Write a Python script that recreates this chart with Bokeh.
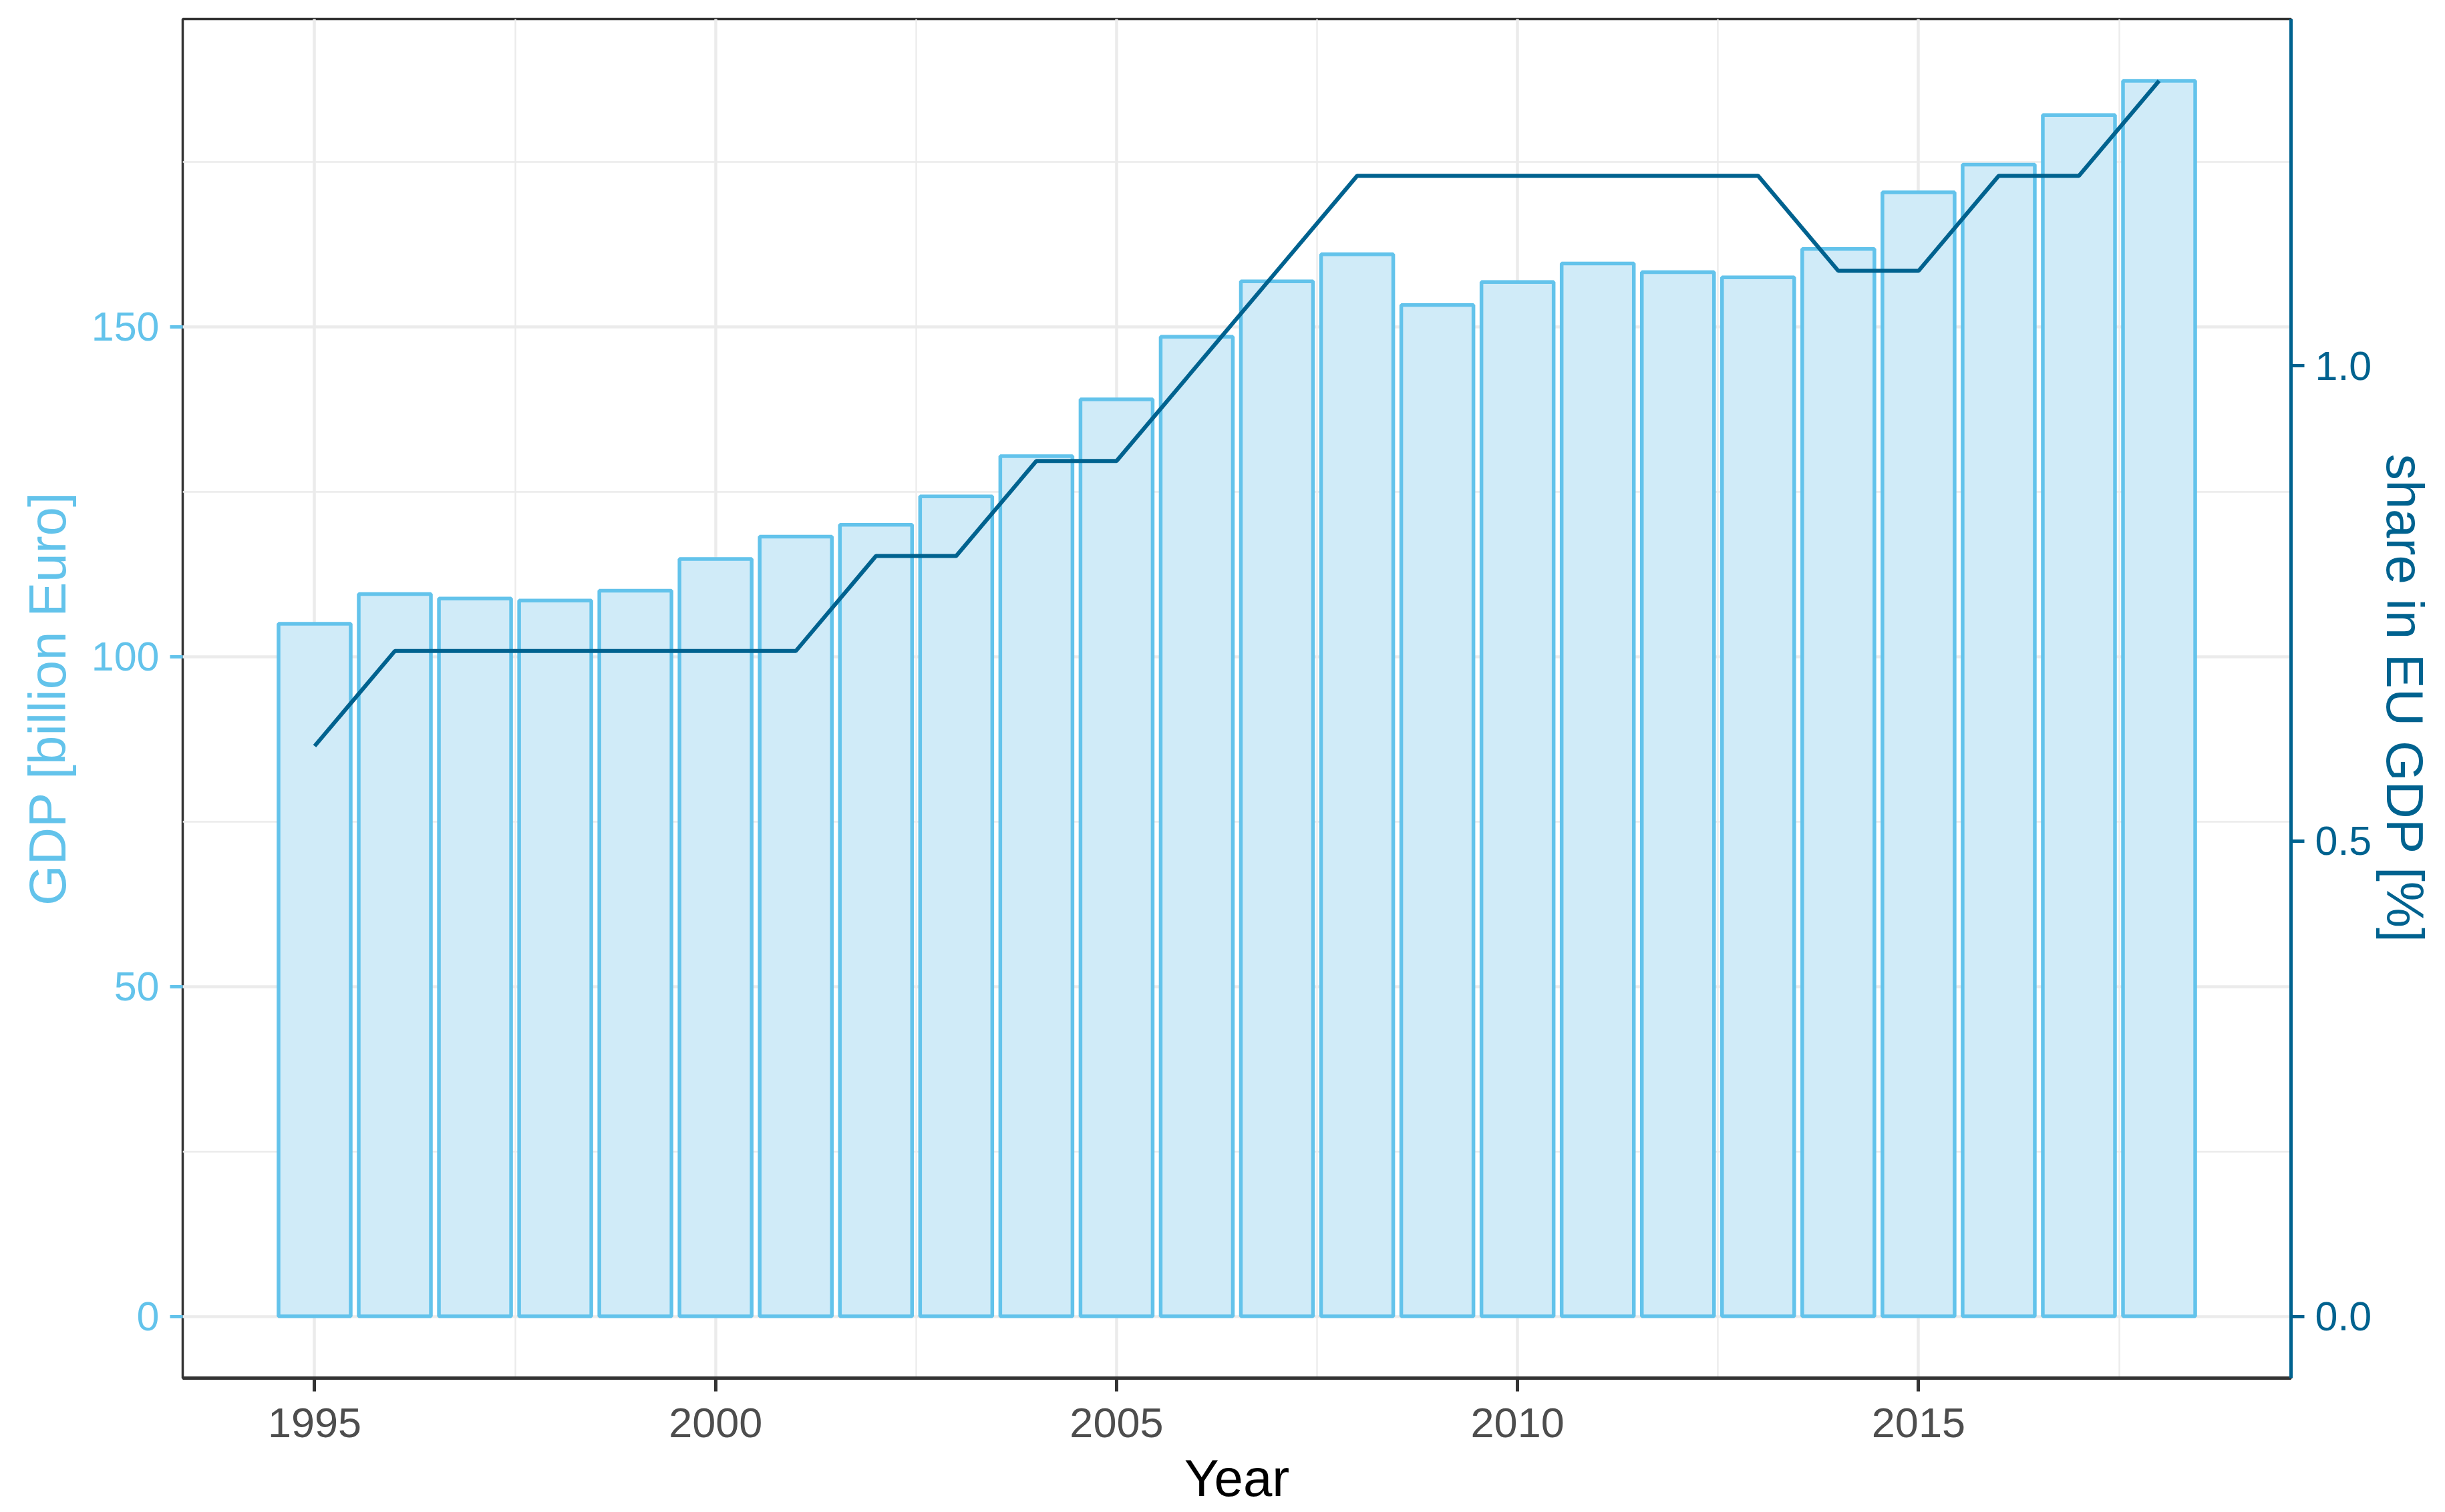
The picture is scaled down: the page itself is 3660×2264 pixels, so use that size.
from bokeh.plotting import figure
from bokeh.models import (Range1d, LinearAxis, SingleIntervalTicker, FixedTicker,
                          NumeralTickFormatter)
from bokeh.embed import file_html
from bokeh.resources import INLINE

# ---- data ----
years = [1995, 1996, 1997, 1998, 1999, 2000, 2001, 2002, 2003, 2004, 2005, 2006,
         2007, 2008, 2009, 2010, 2011, 2012, 2013, 2014, 2015, 2016, 2017, 2018]
gdp = [105.0, 109.5, 108.8, 108.5, 110.0, 114.8, 118.2, 120.0, 124.3, 130.4, 139.0, 148.5,
       156.9, 161.0, 153.3, 156.8, 159.6, 158.3, 157.5, 161.8, 170.4, 174.6, 182.1, 187.3]
share = [0.6, 0.7, 0.7, 0.7, 0.7, 0.7, 0.7, 0.8, 0.8, 0.9, 0.9, 1.0,
         1.1, 1.2, 1.2, 1.2, 1.2, 1.2, 1.2, 1.1, 1.1, 1.2, 1.2, 1.3]
gdp_ticks = [0, 50, 100, 150]
share_ticks = [0.0, 0.5, 1.0]
x_ticks = [1995, 2000, 2005, 2010, 2015]

SKY = "#63C3EB"
NAVY = "#00628F"
FONT = "Liberation Sans"

# ranges like ggplot (5% expansion)
bar_w = 0.9
xlo = min(years) - bar_w / 2
xhi = max(years) + bar_w / 2
xpad = 0.05 * (xhi - xlo)
ymax = max(gdp)
ypad = 0.05 * ymax
factor = max(gdp) / max(share)

p = figure(width=3656, height=2260, output_backend="svg", toolbar_location=None,
           x_range=Range1d(xlo - xpad, xhi + xpad),
           y_range=Range1d(-ypad, ymax + ypad),
           min_border_left=273, min_border_right=227, min_border_top=28,
           min_border_bottom=197)
p.extra_y_ranges = {"share": Range1d(-ypad / factor, (ymax + ypad) / factor)}

p.background_fill_color = "white"
p.border_fill_color = "white"
p.outline_line_color = "#333333"
p.outline_line_width = 3.5

# bars
p.vbar(x=years, top=gdp, bottom=0, width=bar_w, fill_color="#D0EBF8",
       line_color=SKY, line_width=5.5)
# share line
p.line(x=years, y=share, y_range_name="share", line_color=NAVY, line_width=6)

# x axis
xax = p.xaxis[0]
xax.ticker = SingleIntervalTicker(interval=5, num_minor_ticks=2)
xax.axis_label = "Year"
xax.axis_label_text_font = FONT
xax.axis_label_text_font_style = "normal"
xax.axis_label_text_font_size = "78px"
xax.axis_label_text_color = "black"
xax.axis_label_standoff = 14
xax.major_label_text_font = FONT
xax.major_label_text_font_size = "63px"
xax.major_label_text_color = "#4D4D4D"
xax.major_label_standoff = 25
xax.axis_line_color = "#333333"
xax.axis_line_width = 5
xax.major_tick_line_color = "#333333"
xax.major_tick_line_width = 5
xax.major_tick_in = 0
xax.major_tick_out = 20
xax.minor_tick_line_color = None

# left axis
yax = p.yaxis[0]
yax.ticker = SingleIntervalTicker(interval=50, num_minor_ticks=2)
yax.axis_label = "GDP [billion Euro]"
yax.axis_label_text_font = FONT
yax.axis_label_text_font_style = "normal"
yax.axis_label_text_font_size = "78px"
yax.axis_label_text_color = SKY
yax.axis_label_standoff = 19
yax.major_label_text_font = FONT
yax.major_label_text_font_size = "61px"
yax.major_label_text_color = SKY
yax.major_label_standoff = 16
yax.axis_line_color = None
yax.major_tick_line_color = SKY
yax.major_tick_line_width = 5
yax.major_tick_in = 0
yax.major_tick_out = 19
yax.minor_tick_line_color = None

# right axis
rax = LinearAxis(y_range_name="share", ticker=FixedTicker(ticks=share_ticks),
                 formatter=NumeralTickFormatter(format="0.0"))
rax.axis_label = "share in EU GDP [%]"
rax.axis_label_text_font = FONT
rax.axis_label_text_font_style = "normal"
rax.axis_label_text_font_size = "78px"
rax.axis_label_text_color = NAVY
rax.axis_label_standoff = 3
rax.major_label_text_font = FONT
rax.major_label_text_font_size = "61px"
rax.major_label_text_color = NAVY
rax.major_label_standoff = 16
rax.axis_line_color = NAVY
rax.axis_line_width = 5
rax.major_tick_line_color = NAVY
rax.major_tick_line_width = 5
rax.major_tick_in = 0
rax.major_tick_out = 20
rax.minor_tick_line_color = None
p.add_layout(rax, "right")

# grids
for g in (p.xgrid[0], p.ygrid[0]):
    g.grid_line_color = "#EBEBEB"
    g.grid_line_width = 4.5
    g.minor_grid_line_color = "#EBEBEB"
    g.minor_grid_line_width = 2.3

open("out.html", "w").write(file_html(p, INLINE))
